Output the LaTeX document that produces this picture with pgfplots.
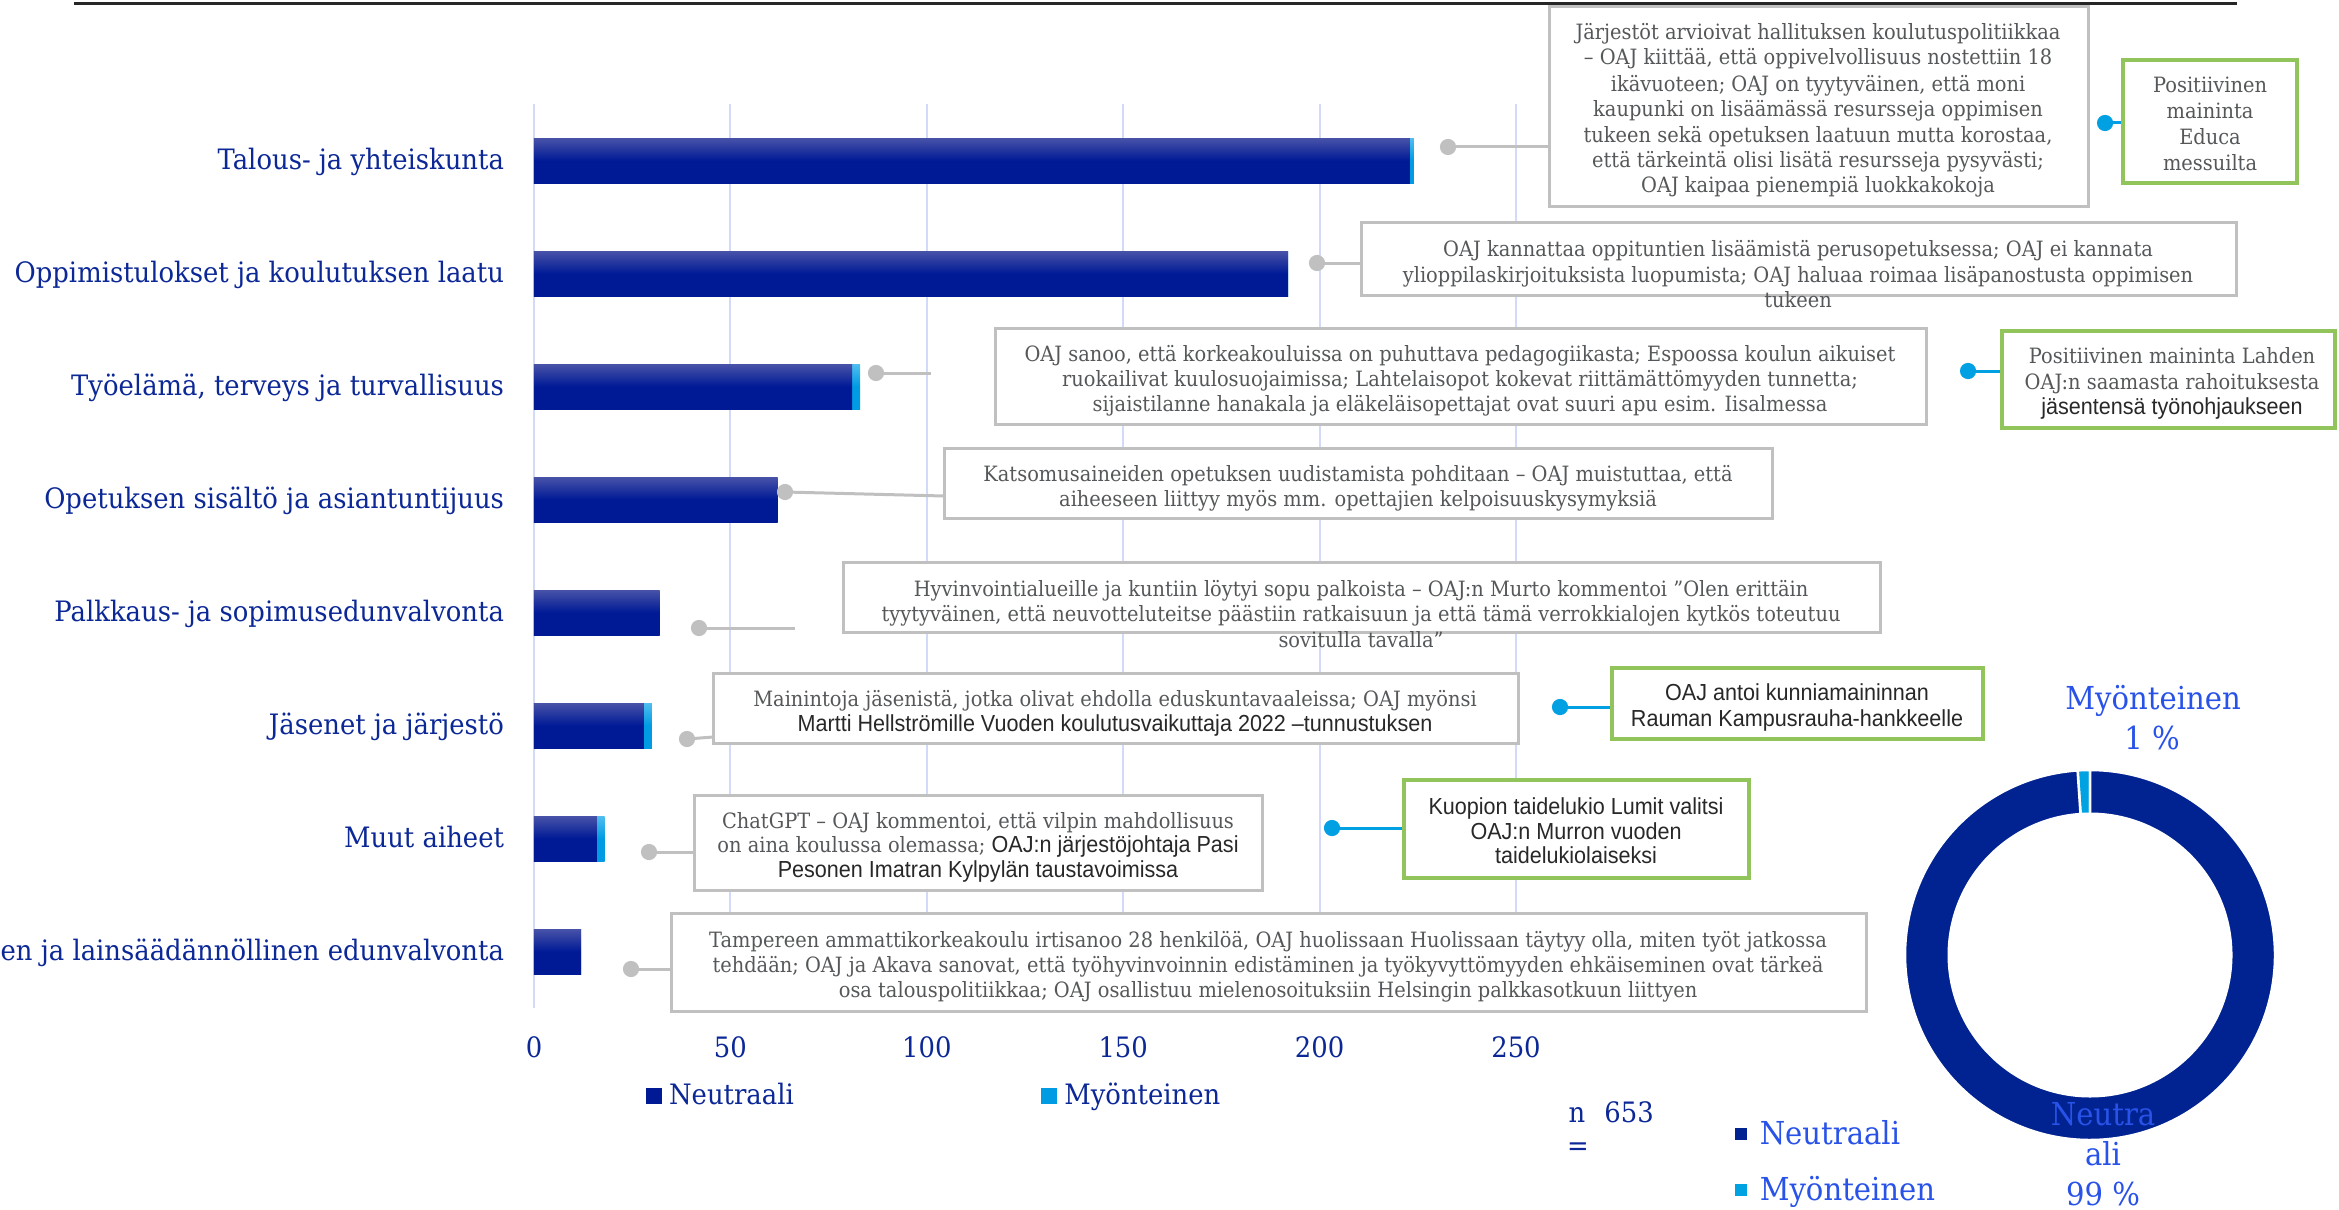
\documentclass[border=0pt]{standalone}
\usepackage{pgfplots}
\pgfplotsset{compat=1.18}
\usepackage{pgfplotstable}
\usepackage{pgf-pie}
\usepackage{fontspec}
\setmainfont{DejaVu Serif}[FakeStretch=0.92]
\newfontfamily\condsans{Liberation Sans}[FakeStretch=0.93]

\definecolor{textblue}{RGB}{12,40,150}
\definecolor{neutop}{RGB}{72,82,168}
\definecolor{neubot}{RGB}{0,26,150}
\definecolor{postop}{RGB}{80,190,240}
\definecolor{posbot}{RGB}{0,155,226}
\definecolor{gridc}{RGB}{210,218,250}
\definecolor{boxgrey}{RGB}{192,192,192}
\definecolor{calltxt}{RGB}{85,88,90}
\definecolor{sanstxt}{RGB}{40,40,40}
\definecolor{okgreen}{RGB}{146,196,92}
\definecolor{dotblue}{RGB}{0,160,226}
\definecolor{ringneu}{RGB}{0,35,145}
\definecolor{ringpos}{RGB}{0,162,226}
\definecolor{lblblue}{RGB}{40,82,232}

\newcommand\fcat{\fontsize{8}{9.6}\selectfont}
\newcommand\fcall{\fontsize{6}{7.2}\selectfont}
\newcommand\fsans{\condsans\fontsize{6.6}{8}\selectfont}
\newcommand\fdon{\fontsize{9}{11}\selectfont}

\tikzset{ringsep/.style={draw=white, line width=0.25mm}}

% callout lines, coordinates in pixels of the slide
\newcommand\tser[3]{\node[anchor=mid,inner sep=0pt,font=\fcall,text=calltxt] at (#1,#2) {#3};}
\newcommand\tsan[3]{\node[anchor=mid,inner sep=0pt,font=\fsans,text=sanstxt] at (#1,#2) {#3};}

% mentions per topic: neutral / positive
\pgfplotstableread{
idx neu pos
0 223 1
1 192 0
2 81 2
3 62 0
4 32 0
5 28 2
6 16 2
7 12 0
}\bardata

\begin{document}
\begin{tikzpicture}

\begin{scope}[shift={(5.34,-10.08)}]
\begin{axis}[
  scale only axis, width=9.82cm, height=9.04cm,
  xbar, bar width=4.5mm,
  xmin=0, xmax=250, ymin=-0.5, ymax=7.5, y dir=reverse,
  xtick={0,50,...,250}, ytick={0,...,7},
  yticklabels={{Talous- ja yhteiskunta},{Oppimistulokset ja koulutuksen laatu},{Työelämä, terveys ja turvallisuus},{Opetuksen sisältö ja asiantuntijuus},{Palkkaus- ja sopimusedunvalvonta},{Jäsenet ja järjestö},{Muut aiheet},{Yhteiskunnallinen ja lainsäädännöllinen edunvalvonta}},
  xmajorgrids,
  grid style={draw=gridc, line width=0.2mm},
  axis line style={draw=none},
  major tick length=0pt, tick style={draw=none},
  /pgf/number format/assume math mode=true,
  tick label style={font=\fcat, text=textblue},
  xticklabel style={anchor=base, yshift=-4.9mm},
  yticklabel style={anchor=mid east, xshift=-1.76mm},
  legend columns=2,
  legend style={at={(axis description cs:0.113,-0.0973)}, anchor=west,
    draw=none, fill=none, font=\fcat, text=textblue, inner sep=0pt,
    /tikz/column 2/.style={column sep=24mm}},
  clip=false,
]
\addlegendimage{legend image code/.code={\fill[neubot] (0mm,-0.75mm) rectangle (1.5mm,0.75mm);}}
\addlegendentry{Neutraali}
\addlegendimage{legend image code/.code={\fill[posbot] (0mm,-0.75mm) rectangle (1.5mm,0.75mm);}}
\addlegendentry{Myönteinen}
% positive part sits at the end of each bar: draw the total, then the neutral part over it
% (one plot per row, so that each bar gets its own shading)
\pgfplotsinvokeforeach{0,...,7}{
  \addplot[draw=none, top color=postop, bottom color=posbot, middle color=posbot,
    bar shift=0pt, forget plot, x filter/.expression={\coordindex==#1 ? x : nan}]
    table[x expr=\thisrow{neu}+\thisrow{pos}, y=idx] {\bardata};
  \addplot[draw=none, top color=neutop, bottom color=neubot, middle color=neubot,
    bar shift=0pt, forget plot, x filter/.expression={\coordindex==#1 ? x : nan}]
    table[x=neu, y=idx] {\bardata};
}
\end{axis}

% connectors, in slide pixels
\begin{axis}[
  scale only axis, width=9.82cm, height=9.04cm,
  xmin=534, xmax=1516, ymin=104, ymax=1008, y dir=reverse,
  hide axis, clip=false,
]
\addplot[boxgrey, line width=0.3mm] coordinates {(1448,147) (1549,147)};
\addplot[boxgrey, line width=0.3mm] coordinates {(1317,263) (1361,263)};
\addplot[boxgrey, line width=0.3mm] coordinates {(876,373) (931,373)};
\addplot[boxgrey, line width=0.3mm] coordinates {(785,492) (944,496)};
\addplot[boxgrey, line width=0.3mm] coordinates {(699,628) (795,628)};
\addplot[boxgrey, line width=0.3mm] coordinates {(687,739) (713,737)};
\addplot[boxgrey, line width=0.3mm] coordinates {(649,852) (694,852)};
\addplot[boxgrey, line width=0.3mm] coordinates {(631,969) (671,969)};
\addplot[dotblue, line width=0.3mm] coordinates {(2105,123) (2123,123)};
\addplot[dotblue, line width=0.3mm] coordinates {(1968,371) (2002,371)};
\addplot[dotblue, line width=0.3mm] coordinates {(1560,707) (1612,707)};
\addplot[dotblue, line width=0.3mm] coordinates {(1332,828) (1404,828)};
\addplot[only marks, mark=*, mark size=2.1pt, boxgrey, mark options={draw=boxgrey, fill=boxgrey}]
  coordinates {(1448,147) (1317,263) (876,373) (785,492) (699,628) (687,739) (649,852) (631,969)};
\addplot[only marks, mark=*, mark size=2.1pt, dotblue, mark options={draw=dotblue, fill=dotblue}]
  coordinates {(2105,123) (1968,371) (1560,707) (1332,828)};
\end{axis}
\end{scope}

\begin{scope}[x=0.1mm, y=-0.1mm]
\draw[line width=0.3mm, black!85] (74,4) -- (2237,4);

\tikzset{gbox/.style={draw=boxgrey, line width=0.3mm, fill=white},
         ggbox/.style={draw=okgreen, line width=0.35mm, fill=white}}
\path[gbox] (1549,7) rectangle (2088,207);
\path[ggbox] (2123,60) rectangle (2297,183);
\path[gbox] (1361,223) rectangle (2236,295);
\path[gbox] (995,328) rectangle (1926,424);
\path[ggbox] (2002,331) rectangle (2335,428);
\path[gbox] (944,448) rectangle (1772,518);
\path[gbox] (843,562) rectangle (1880,632);
\path[gbox] (713,673) rectangle (1518,743);
\path[ggbox] (1612,668) rectangle (1983,739);
\path[gbox] (694,795) rectangle (1262,890);
\path[ggbox] (1404,780) rectangle (1749,878);
\path[gbox] (671,913) rectangle (1866,1011);

\tser{1818}{30}{Järjestöt arvioivat hallituksen koulutuspolitiikkaa}
\tser{1818}{55}{– OAJ kiittää, että oppivelvollisuus nostettiin 18}
\tser{1818}{82}{ikävuoteen; OAJ on tyytyväinen, että moni}
\tser{1818}{107}{kaupunki on lisäämässä resursseja oppimisen}
\tser{1818}{133}{tukeen sekä opetuksen laatuun mutta korostaa,}
\tser{1818}{158}{että tärkeintä olisi lisätä resursseja pysyvästi;}
\tser{1818}{183}{OAJ kaipaa pienempiä luokkakokoja}

\tser{2210}{83}{Positiivinen}
\tser{2210}{109}{maininta}
\tser{2210}{135}{Educa}
\tser{2210}{161}{messuilta}

\tser{1798}{247}{OAJ kannattaa oppituntien lisäämistä perusopetuksessa; OAJ ei kannata}
\tser{1798}{273}{ylioppilaskirjoituksista luopumista; OAJ haluaa roimaa lisäpanostusta oppimisen}
\tser{1798}{298}{tukeen}

\tser{1460}{352}{OAJ sanoo, että korkeakouluissa on puhuttava pedagogiikasta; Espoossa koulun aikuiset}
\tser{1460}{377}{ruokailivat kuulosuojaimissa; Lahtelaisopot kokevat riittämättömyyden tunnetta;}
\tser{1460}{402}{sijaistilanne hanakala ja eläkeläisopettajat ovat suuri apu esim. Iisalmessa}

\tser{2172}{354}{Positiivinen maininta Lahden}
\tser{2172}{380}{OAJ:n saamasta rahoituksesta}
\tsan{2172}{405}{jäsentensä työnohjaukseen}

\tser{1358}{472}{Katsomusaineiden opetuksen uudistamista pohditaan – OAJ muistuttaa, että}
\tser{1358}{497}{aiheeseen liittyy myös mm. opettajien kelpoisuuskysymyksiä}

\tser{1361}{587}{Hyvinvointialueille ja kuntiin löytyi sopu palkoista – OAJ:n Murto kommentoi ”Olen erittäin}
\tser{1361}{612}{tyytyväinen, että neuvotteluteitse päästiin ratkaisuun ja että tämä verrokkialojen kytkös toteutuu}
\tser{1361}{638}{sovitulla tavalla”}

\tser{1115}{697}{Mainintoja jäsenistä, jotka olivat ehdolla eduskuntavaaleissa; OAJ myönsi}
\tsan{1115}{722}{Martti Hellströmille Vuoden koulutusvaikuttaja 2022 –tunnustuksen}

\tsan{1797}{691}{OAJ antoi kunniamaininnan}
\tsan{1797}{717}{Rauman Kampusrauha-hankkeelle}

\tser{978}{819}{ChatGPT – OAJ kommentoi, että vilpin mahdollisuus}
\node[anchor=mid,inner sep=0pt,font=\fcall,text=calltxt] at (978,843)
  {on aina koulussa olemassa; {\fsans\color{sanstxt}OAJ:n järjestöjohtaja Pasi}};
\tsan{978}{868}{Pesonen Imatran Kylpylän taustavoimissa}

\tsan{1576}{805}{Kuopion taidelukio Lumit valitsi}
\tsan{1576}{830}{OAJ:n Murron vuoden}
\tsan{1576}{854}{taidelukiolaiseksi}

\tser{1268}{938}{Tampereen ammattikorkeakoulu irtisanoo 28 henkilöä, OAJ huolissaan Huolissaan täytyy olla, miten työt jatkossa}
\tser{1268}{963}{tehdään; OAJ ja Akava sanovat, että työhyvinvoinnin edistäminen ja työkyvyttömyyden ehkäiseminen ovat tärkeä}
\tser{1268}{988}{osa talouspolitiikkaa; OAJ osallistuu mielenosoituksiin Helsingin palkkasotkuun liittyen}

% n
\node[anchor=mid,inner sep=0pt,font=\fcat,text=textblue] at (1577,1113) {n};
\node[anchor=mid,inner sep=0pt,font=\fcat,text=textblue] at (1629,1113) {653};
\node[anchor=mid,inner sep=0pt,font=\fcat,text=textblue] at (1578,1146) {=};
\end{scope}

% donut: 646 neutral, 7 positive
\pie[pos={20.90,-9.55}, radius=1.85, rotate=90, sum=auto, hide number,
  color={ringpos, ringneu}, style=ringsep]{7/, 646/}
\fill[white] (20.90,-9.55) circle (1.425);

\begin{scope}[x=0.1mm, y=-0.1mm]
\node[anchor=mid,inner sep=0pt,font=\fdon,text=lblblue] at (2153,700) {Myönteinen};
\node[anchor=mid,inner sep=0pt,font=\fdon,text=lblblue] at (2152,740) {1 \%};
\node[anchor=mid,inner sep=0pt,font=\fdon,text=lblblue] at (2103,1116) {Neutra};
\node[anchor=mid,inner sep=0pt,font=\fdon,text=lblblue] at (2103,1156) {ali};
\node[anchor=mid,inner sep=0pt,font=\fdon,text=lblblue] at (2103,1196) {99 \%};
\fill[ringneu] (1735,1128) rectangle (1747,1140);
\node[anchor=mid west,inner sep=0pt,font=\fdon,text=lblblue] at (1759,1135) {Neutraali};
\fill[ringpos] (1735,1184) rectangle (1747,1196);
\node[anchor=mid west,inner sep=0pt,font=\fdon,text=lblblue] at (1759,1191) {Myönteinen};
\end{scope}

\pgfresetboundingbox
\useasboundingbox (0,0) rectangle (23.39,-12.10);
\end{tikzpicture}
\end{document}
